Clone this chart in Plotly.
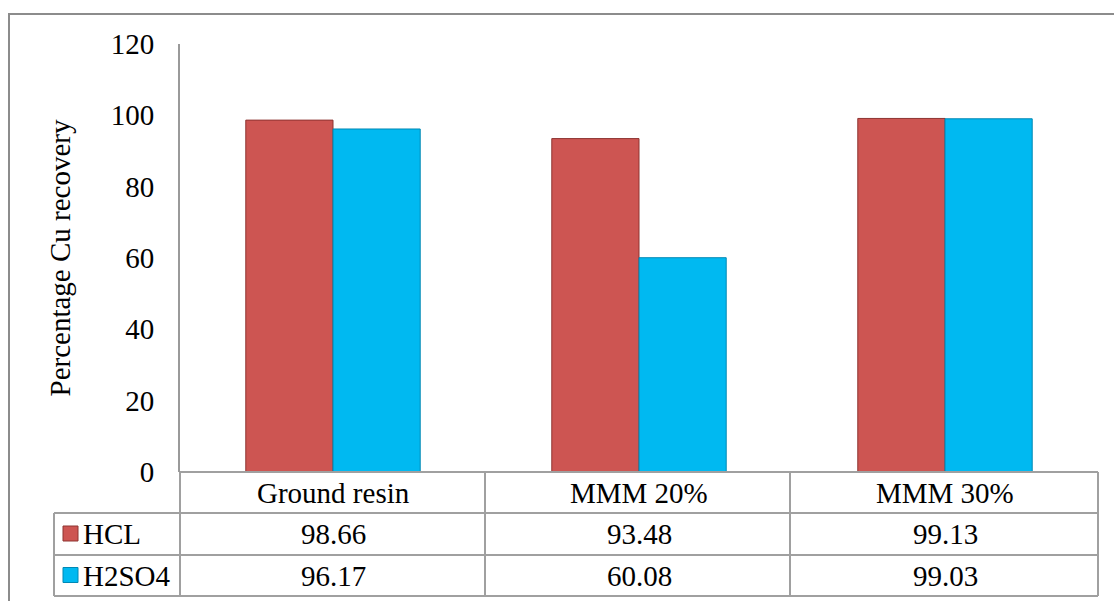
import plotly.graph_objects as go

categories = ["Ground resin", "MMM 20%", "MMM 30%"]
series_names = ["HCL", "H2SO4"]
hcl = [98.66, 93.48, 99.13]
h2so4 = [96.17, 60.08, 99.03]
y_ticks = [0, 20, 40, 60, 80, 100, 120]
colors = ["#CD5552", "#00B9F1"]
line_colors = ["#8E3431", "#0088B4"]

W, H = 1114, 601
ML, MR, MT, MB = 180, 16, 44, 129
PW, PH = W - ML - MR, H - MT - MB

def px(x):
    return (x - ML) / PW

def py(y):
    return (H - MB - y) / PH

FONT = "Liberation Serif"
FS = 29
GRID = "#A0A0A0"

fig = go.Figure()
for name, vals, c, lc in zip(series_names, [hcl, h2so4], colors, line_colors):
    fig.add_trace(go.Bar(x=categories, y=vals, name=name,
                         marker=dict(color=c, line=dict(color=lc, width=1))))

shapes = []
annotations = []

# outer border
shapes.append(dict(type="rect", xref="paper", yref="paper",
                   x0=px(9), x1=px(1125), y0=py(612), y1=py(14),
                   line=dict(color="#8C8C8C", width=2)))

row_y = [472, 513, 555, 596]
shapes.append(dict(type="line", xref="paper", yref="paper",
                   x0=px(180), x1=px(1098), y0=py(472), y1=py(472),
                   line=dict(color=GRID, width=2)))
for yy in row_y[1:]:
    shapes.append(dict(type="line", xref="paper", yref="paper",
                       x0=px(54), x1=px(1098), y0=py(yy), y1=py(yy),
                       line=dict(color=GRID, width=2)))
for xx in [180, 485, 790, 1098]:
    shapes.append(dict(type="line", xref="paper", yref="paper",
                       x0=px(xx), x1=px(xx), y0=py(472), y1=py(596),
                       line=dict(color=GRID, width=2)))
shapes.append(dict(type="line", xref="paper", yref="paper",
                   x0=px(54), x1=px(54), y0=py(513), y1=py(596),
                   line=dict(color=GRID, width=2)))

for cat in categories:
    annotations.append(dict(x=cat, xref="x", y=py((472 + 513) / 2), yref="paper",
                            text=cat, showarrow=False, xanchor="center", yanchor="middle",
                            font=dict(family=FONT, size=FS, color="#000")))

for i, (name, vals) in enumerate(zip(series_names, [hcl, h2so4])):
    yc = (row_y[i + 1] + row_y[i + 2]) / 2
    for cat, v in zip(categories, vals):
        annotations.append(dict(x=cat, xref="x", y=py(yc), yref="paper",
                                text=f"{v:.2f}", showarrow=False,
                                xanchor="center", yanchor="middle",
                                font=dict(family=FONT, size=FS, color="#000")))
    shapes.append(dict(type="rect", xref="paper", yref="paper",
                       x0=px(63), x1=px(78), y0=py(yc + 7), y1=py(yc - 8),
                       fillcolor=colors[i], line=dict(color=line_colors[i], width=1)))
    annotations.append(dict(x=px(81), xref="paper", y=py(yc), yref="paper",
                            text=name, showarrow=False, xanchor="left", yanchor="middle",
                            font=dict(family=FONT, size=FS, color="#000")))

fig.update_layout(
    width=W, height=H,
    margin=dict(l=ML, r=MR, t=MT, b=MB),
    paper_bgcolor="white", plot_bgcolor="white",
    barmode="group", bargap=0.43, bargroupgap=0,
    showlegend=False,
    shapes=shapes, annotations=annotations,
    xaxis=dict(showticklabels=False, showline=False, showgrid=False,
               zeroline=False, ticks=""),
    yaxis=dict(range=[0, 120], tickvals=y_ticks, showgrid=False,
               zeroline=False, showline=True, linecolor="#9A9A9A", linewidth=2,
               ticks="", ticklabelstandoff=18,
               tickfont=dict(family=FONT, size=FS, color="#000"),
               title=dict(text="Percentage Cu recovery", standoff=32,
                          font=dict(family=FONT, size=FS, color="#000"))),
)

fig.write_html("out.html")
